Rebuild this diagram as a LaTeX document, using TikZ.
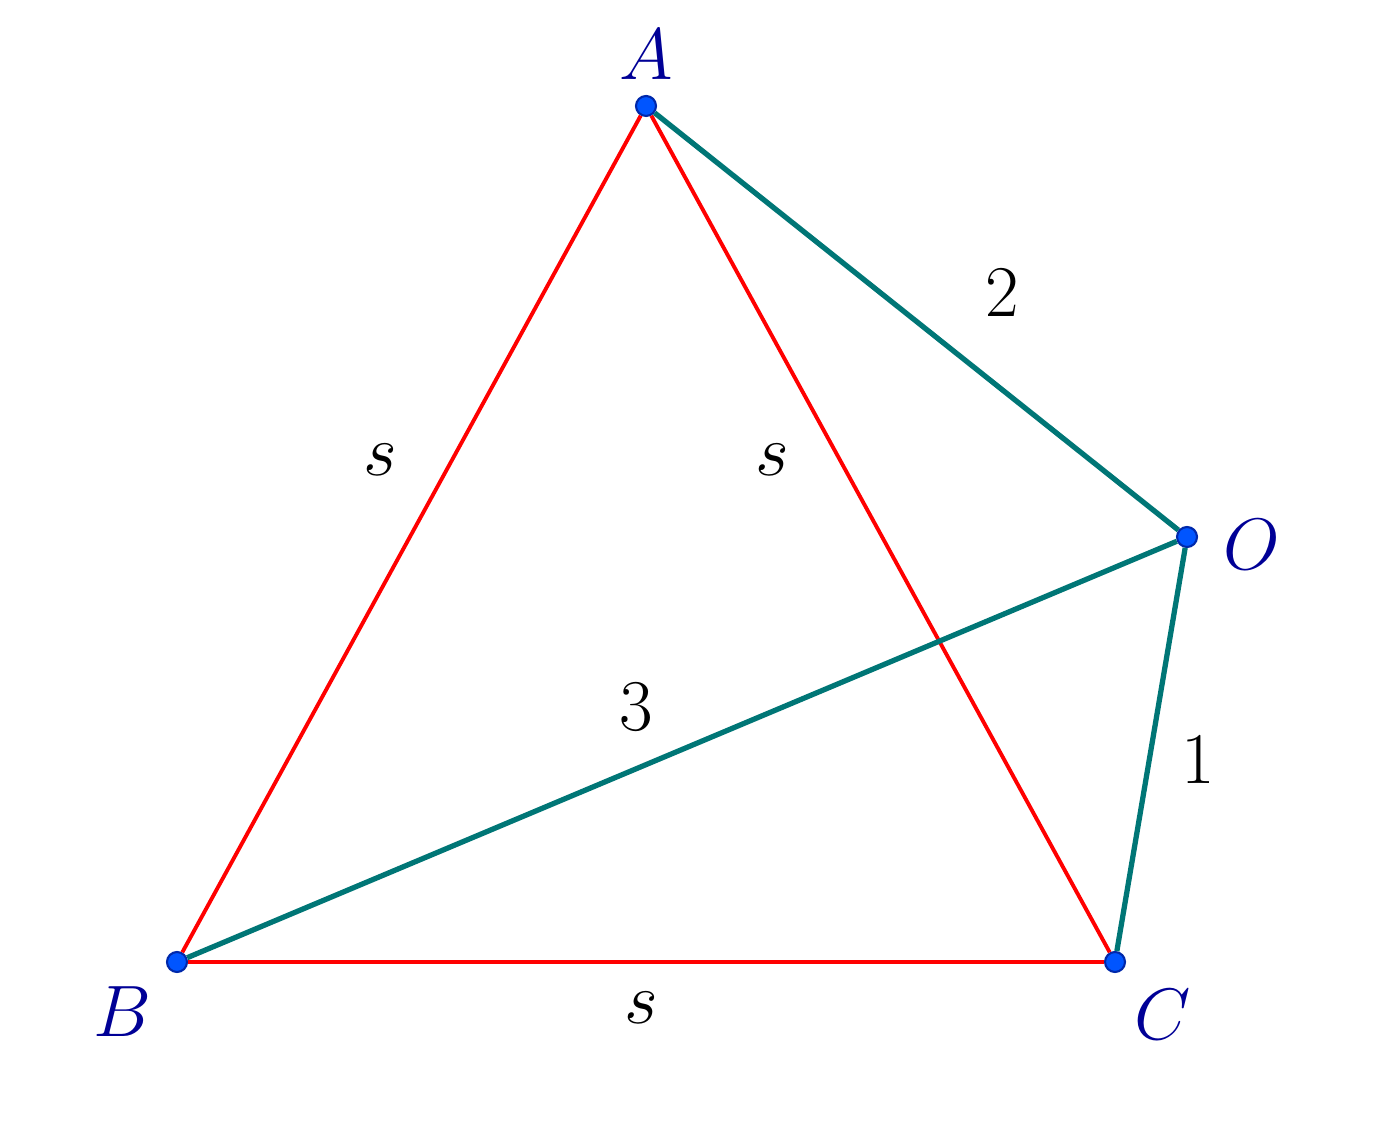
\documentclass[tikz,border=0pt]{standalone}
\usepackage{amsmath}
\usepackage{tikz}
\usetikzlibrary{positioning,calc}
\definecolor{ptblue}{RGB}{0,85,255}
\definecolor{ptedge}{RGB}{0,40,170}
\definecolor{lblblue}{RGB}{0,0,150}
\definecolor{tealline}{RGB}{0,118,118}
\tikzstyle{vertex}=[circle,fill=ptblue,draw=ptedge,line width=0.6pt,minimum size=0.2cm,inner sep=0pt]
\tikzstyle{ptlabel}=[text=lblblue,font=\huge]
\tikzstyle{side}=[red,line width=1.1pt]
\tikzstyle{dist}=[tealline,line width=1.5pt]
\tikzstyle{num}=[font=\huge]
\begin{document}
\begin{tikzpicture}
      \useasboundingbox (0,0) rectangle (13.75,11.44);
      \node[vertex] at (6.46, 10.38) (a) {};
      \node[vertex] at (1.77, 1.82) (b) {};
      \node[vertex] at (11.15, 1.82) (c) {};
      \node[vertex] at (11.87, 6.07) (o) {};
      \draw[side] (a) edge (b);
      \draw[side] (a) edge (c);
      \draw[side] (b) edge (c);
      \draw[dist] (a) edge (o);
      \draw[dist] (b) edge (o);
      \draw[dist] (c) edge (o);
      \node[ptlabel] at (6.46, 10.89) (la) {$A$};
      \node[ptlabel] at (1.22, 1.32) (lb) {$B$};
      \node[ptlabel] at (11.63, 1.29) (lc) {$C$};
      \node[ptlabel] at (12.52, 5.99) (lo) {$O$};
      \node[num] at (3.80, 6.84) (sab) {$s$};
      \node[num] at (7.72, 6.84) (sac) {$s$};
      \node[num] at (6.41, 1.36) (sbc) {$s$};
      \node[num] at (10.02, 8.51) (dao) {$2$};
      \node[num] at (6.36, 4.37) (dbo) {$3$};
      \node[num] at (11.98, 3.84) (dco) {$1$};
  	\end{tikzpicture}
\end{document}
